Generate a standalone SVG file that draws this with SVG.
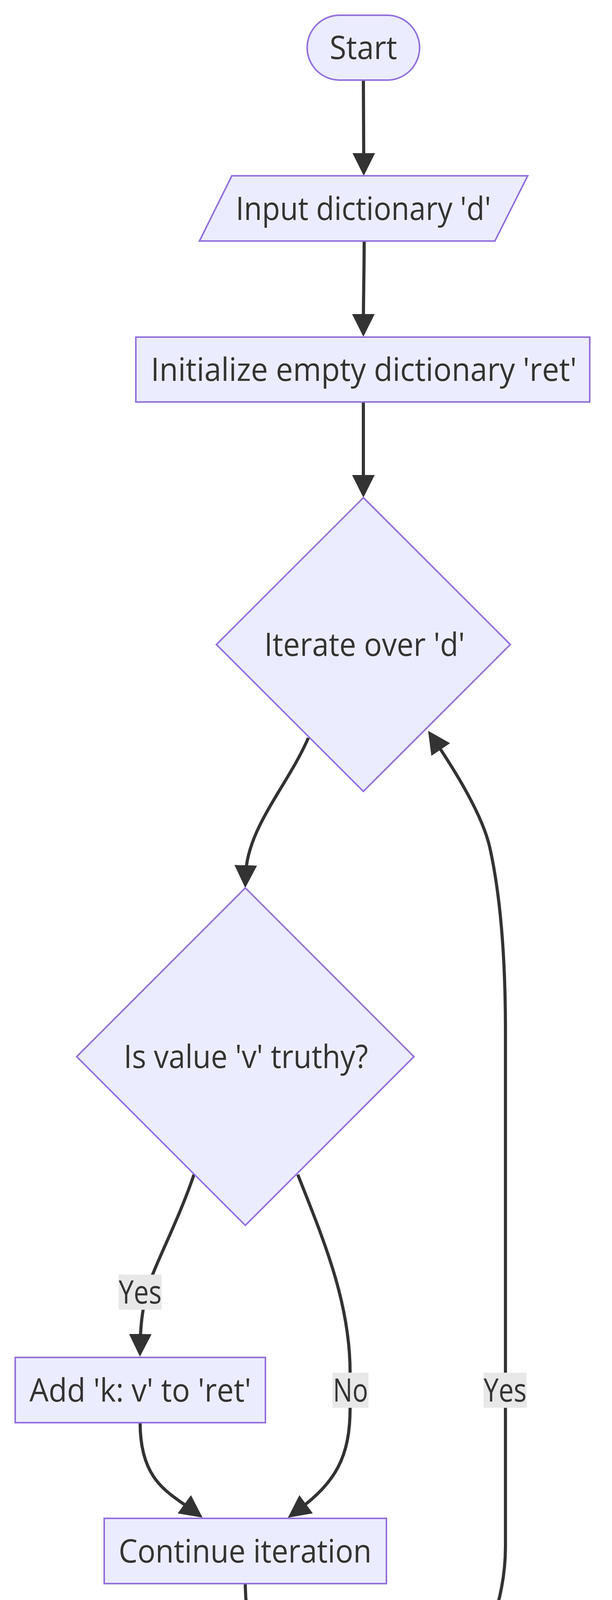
<svg xmlns="http://www.w3.org/2000/svg" width="1568" height="6158" viewBox="0 0 1568 6158">
<style>
.shape{fill:#ECECFF;stroke:#9370DB;stroke-width:4}
.edge{fill:none;stroke:#333333;stroke-width:8;marker-end:url(#arrow)}
.lblbg{fill:#E8E8E8}
text{font-family:"Open Sans","Liberation Sans",sans-serif;font-size:82px;fill:#333333;text-anchor:middle}
</style>
<defs>
<marker id="arrow" viewBox="0 0 10 10" refX="5" refY="5" markerWidth="58" markerHeight="58" markerUnits="userSpaceOnUse" orient="auto">
<path d="M0,0 L10,5 L0,10 z" fill="#333333"/>
</marker>
</defs>
<rect width="1568" height="6158" fill="#ffffff"/>
<g id="connectors">
<path class="edge" d="M931,205 C931,330 932,340 932,421"/>
<path class="edge" d="M933,617 C933,700 931,760 931,833"/>
<path class="edge" d="M931,1029 C931,1130 931,1180 931,1245"/>
<path class="edge" d="M790,1889 C735,2015 632,2120 629,2244"/>
<path class="edge" d="M497,3007 C455,3130 395,3240 378,3300 C368,3340 360,3380 359,3444"/>
<path class="edge" d="M763,3007 C825,3165 897,3330 897,3514 L897,3604 C897,3730 860,3795 761,3868"/>
<path class="edge" d="M359,3642 C359,3790 430,3820 495.6,3868"/>
<path class="edge" d="M628.5,4054 C628.5,4130 645,4200 671,4250 C695,4294 743,4381 767,4424.7"/>
<path class="edge" d="M1106,4472 C1200,4290 1295,4150 1295,3960 L1295,2640 C1295,2400 1275,2260 1255,2170 C1235,2080 1155,1957 1113,1894.8"/>
<path class="edge" d="M933,5142 C933,5300 932,5380 932,5448"/>
<path class="edge" d="M933,5643 C933,5780 932,5830 932,5859"/>
<g id="label-yes-1">
<rect class="lblbg" x="304" y="3263" width="110" height="90"/>
<text x="359" y="3337" textLength="110" lengthAdjust="spacingAndGlyphs">Yes</text>
</g>
<g id="label-no-1">
<rect class="lblbg" x="852" y="3514" width="92" height="90"/>
<text x="898" y="3588" textLength="90" lengthAdjust="spacingAndGlyphs">No</text>
</g>
<g id="label-yes-2">
<rect class="lblbg" x="1239" y="3514" width="110" height="90"/>
<text x="1294" y="3588" textLength="110" lengthAdjust="spacingAndGlyphs">Yes</text>
</g>
<g id="label-no-2">
<rect class="lblbg" x="885" y="5263" width="93" height="91"/>
<text x="931.5" y="5338" textLength="90" lengthAdjust="spacingAndGlyphs">No</text>
</g>
</g>
<g id="node-start">
<rect class="shape" x="787" y="39" width="288" height="166" rx="83" ry="83"/>
<text x="931" y="151" textLength="173" lengthAdjust="spacingAndGlyphs">Start</text>
</g>
<g id="node-input">
<polygon class="shape" points="594,450 1352,450 1268,617 511,617"/>
<text x="931" y="562.5" textLength="654" lengthAdjust="spacingAndGlyphs">Input dictionary 'd'</text>
</g>
<g id="node-init">
<rect class="shape" x="348" y="863" width="1163" height="166"/>
<text x="932" y="975" textLength="1091" lengthAdjust="spacingAndGlyphs">Initialize empty dictionary 'ret'</text>
</g>
<g id="node-iterate">
<polygon class="shape" points="931,1274 1307.5,1650 931,2026 554.5,1650"/>
<text x="934" y="1679" textLength="514" lengthAdjust="spacingAndGlyphs">Iterate over 'd'</text>
</g>
<g id="node-truthy">
<polygon class="shape" points="628.5,2273 1060.5,2705 628.5,3137 196.5,2705"/>
<text x="630" y="2734" textLength="626" lengthAdjust="spacingAndGlyphs">Is value 'v' truthy?</text>
</g>
<g id="node-add">
<rect class="shape" x="39" y="3475" width="641" height="167"/>
<text x="359.5" y="3587.5" textLength="568" lengthAdjust="spacingAndGlyphs">Add 'k: v' to 'ret'</text>
</g>
<g id="node-continue">
<rect class="shape" x="267" y="3887" width="723" height="167"/>
<text x="628" y="3999.5" textLength="648" lengthAdjust="spacingAndGlyphs">Continue iteration</text>
</g>
<g id="node-more">
<polygon class="shape" points="931,4299.5 1351.5,4720 931,5140.5 510.5,4720"/>
<text x="930" y="4748" textLength="606" lengthAdjust="spacingAndGlyphs">More items in 'd'?</text>
</g>
<g id="node-return">
<polygon class="shape" points="539,5477 1408,5477 1325,5643 455,5643"/>
<text x="931" y="5589" textLength="768" lengthAdjust="spacingAndGlyphs">Return dictionary 'ret'</text>
</g>
<g id="node-end">
<rect class="shape" x="808" y="5888" width="245" height="168" rx="84" ry="84"/>
<text x="931" y="6001" textLength="129" lengthAdjust="spacingAndGlyphs">End</text>
</g>
</svg>
